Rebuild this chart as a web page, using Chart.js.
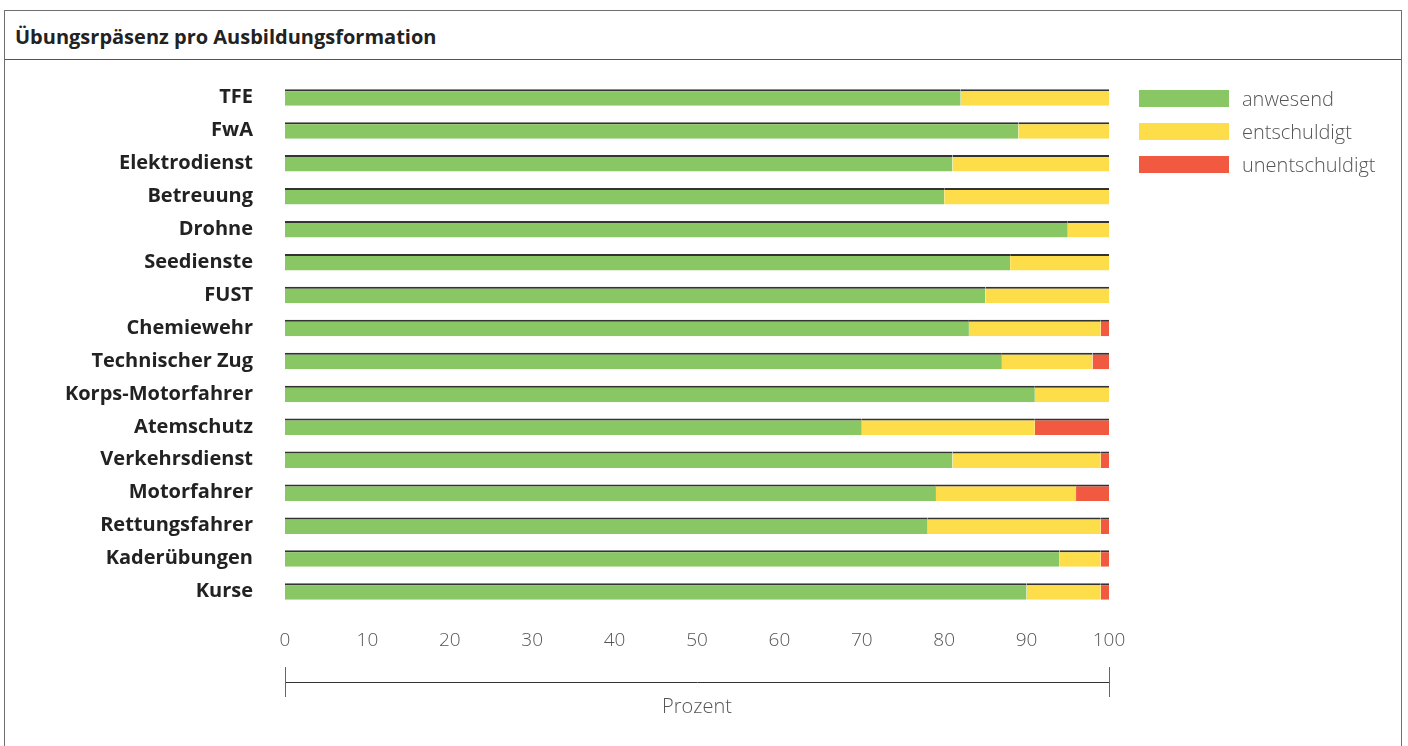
<!DOCTYPE html>
<html lang="de">
<head>
<meta charset="utf-8">
<title>Übungsrpäsenz pro Ausbildungsformation</title>
<script src="https://cdn.jsdelivr.net/npm/chart.js@4"></script>
<style>
  html, body { margin: 0; padding: 0; background: #fff; }
  body { width: 1408px; height: 746px; position: relative; overflow: hidden; font-family: "Open Sans", sans-serif; }
  .frame { position: absolute; left: 4px; top: 10px; width: 1398px; height: 760px; border: 1px solid #6f6f6f; box-sizing: border-box; }
  .frame-head { height: 49px; border-bottom: 1px solid #555; box-sizing: border-box; }
  .frame-head h1 { margin: 0; padding: 3px 0 0 10px; line-height: 45px; font-size: 20px; font-weight: 700; color: #222; }
  #wrap { position: absolute; left: 0; top: 0; width: 1408px; height: 746px; }
  .legend { position: absolute; left: 1139px; top: 90px; }
  .legend div { height: 33px; display: flex; align-items: flex-start; }
  .legend span.box { width: 90px; height: 17px; display: inline-block; }
  .legend span.lbl { margin-left: 13px; font-size: 20px; font-weight: 300; color: #555; line-height: 17px; }
</style>
</head>
<body>
<div class="frame"><div class="frame-head"><h1>Übungsrpäsenz pro Ausbildungsformation</h1></div></div>
<div id="wrap"><canvas id="praesenzChart" width="1408" height="746"></canvas></div>
<div class="legend" id="legend"></div>
<script>
// Ausbildungsformationen (top to bottom)
const formations = ['TFE', 'FwA', 'Elektrodienst', 'Betreuung', 'Drohne', 'Seedienste', 'FUST', 'Chemiewehr',
  'Technischer Zug', 'Korps-Motorfahrer', 'Atemschutz', 'Verkehrsdienst', 'Motorfahrer', 'Rettungsfahrer',
  'Kaderübungen', 'Kurse'];

// Anteile in Prozent
const anwesend =       [82, 89, 81, 80, 95, 88, 85, 83, 87, 91, 70, 81, 79, 78, 94, 90];
const entschuldigt =   [18, 11, 19, 20,  5, 12, 15, 16, 11,  9, 21, 18, 17, 21,  5,  9];
const unentschuldigt = [ 0,  0,  0,  0,  0,  0,  0,  1,  2,  0,  9,  1,  4,  1,  1,  1];

const xTicks = [0, 10, 20, 30, 40, 50, 60, 70, 80, 90, 100];

const seriesNames = ['anwesend', 'entschuldigt', 'unentschuldigt'];
const seriesColors = ['#89c765', '#fedd4a', '#f15a40'];

// legend next to the chart
const legendEl = document.getElementById('legend');
seriesNames.forEach((name, i) => {
    const row = document.createElement('div');
    row.innerHTML = '<span class="box" style="background:' + seriesColors[i] + '"></span><span class="lbl">' + name + '</span>';
    legendEl.appendChild(row);
});

// bracket line under the x axis tick labels
const bracketPlugin = {
    id: 'bracket',
    afterDraw(chart) {
        const x = chart.scales.x;
        const ctx = chart.ctx;
        const x0 = Math.round(x.getPixelForValue(0)) + 0.5;
        const x1 = Math.round(x.getPixelForValue(100)) + 0.5;
        const y = 682.5;
        ctx.save();
        ctx.strokeStyle = '#333';
        ctx.lineWidth = 1;
        ctx.beginPath();
        ctx.moveTo(x0, y);
        ctx.lineTo(x1, y);
        ctx.stroke();
        ctx.strokeStyle = '#666';
        ctx.beginPath();
        ctx.moveTo(x0, 667);
        ctx.lineTo(x0, 697);
        ctx.moveTo(x1, 667);
        ctx.lineTo(x1, 697);
        ctx.stroke();
        ctx.restore();
    }
};

const data = [anwesend, entschuldigt, unentschuldigt];

new Chart(document.getElementById('praesenzChart'), {
    type: 'bar',
    data: {
        labels: formations,
        datasets: seriesNames.map((name, i) => ({
            label: name,
            data: data[i],
            backgroundColor: seriesColors[i],
            borderColor: '#333',
            borderWidth: { top: 2, left: 0, right: 0, bottom: 0 },
            borderSkipped: false,
            barPercentage: 0.5,
            categoryPercentage: 1.0
        }))
    },
    options: {
        indexAxis: 'y',
        responsive: false,
        animation: false,
        layout: { padding: { left: 0, right: 299, top: 81, bottom: 16 } },
        plugins: {
            legend: { display: false },
            title: { display: false },
            tooltip: { enabled: false }
        },
        scales: {
            x: {
                stacked: true,
                min: 0,
                max: 100,
                afterBuildTicks: s => { s.ticks = xTicks.map(v => ({ value: v })); },
                afterFit: s => { s.height = 122; },
                grid: { display: false },
                border: { display: false },
                ticks: {
                    padding: 13,
                    maxRotation: 0,
                    color: '#555',
                    font: { family: 'Open Sans', size: 19, weight: 300 }
                },
                title: {
                    display: true,
                    text: 'Prozent',
                    color: '#555',
                    padding: { top: 0, bottom: 11 },
                    font: { family: 'Open Sans', size: 20, weight: 300 }
                }
            },
            y: {
                stacked: true,
                afterFit: s => { s.width = 285; },
                grid: { display: false },
                border: { display: false },
                ticks: {
                    padding: 24,
                    color: '#222',
                    font: { family: 'Open Sans', size: 20, weight: 700 }
                }
            }
        }
    },
    plugins: [bracketPlugin]
});
</script>
</body>
</html>
